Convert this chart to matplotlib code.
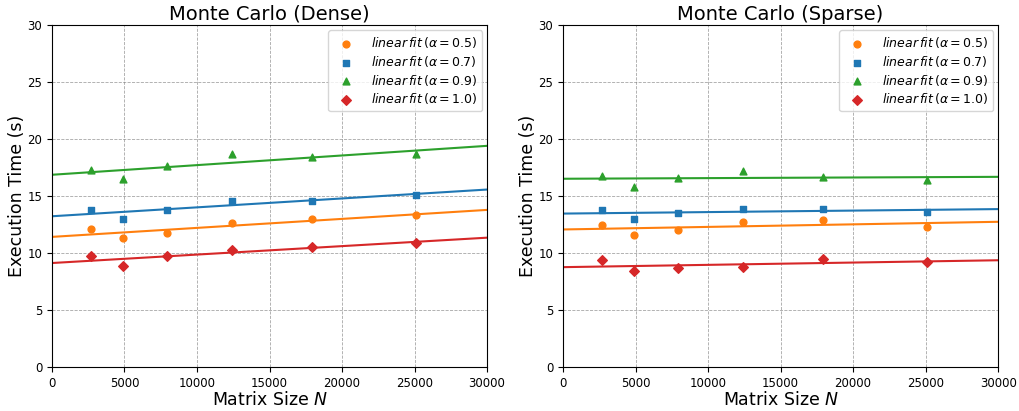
import numpy as np
import matplotlib

matplotlib.use("Agg")
import matplotlib.pyplot as plt

# matrix sizes (shared by both panels)
sizes = [2700, 4900, 7900, 12400, 17900, 25100]
alphas = [0.5, 0.7, 0.9, 1.0]

dense_times = {
    0.5: [12.1, 11.3, 11.8, 12.6, 13.0, 13.3],
    0.7: [13.8, 13.0, 13.8, 14.6, 14.6, 15.1],
    0.9: [17.3, 16.5, 17.6, 18.7, 18.4, 18.7],
    1.0: [9.7, 8.9, 9.7, 10.3, 10.5, 10.9],
}
sparse_times = {
    0.5: [12.5, 11.6, 12.0, 12.7, 12.9, 12.3],
    0.7: [13.8, 13.0, 13.5, 13.9, 13.9, 13.6],
    0.9: [16.8, 15.8, 16.6, 17.2, 16.7, 16.4],
    1.0: [9.4, 8.4, 8.7, 8.8, 9.5, 9.2],
}

COLORS = {0.5: "#ff7f0e", 0.7: "#1f77b4", 0.9: "#2ca02c", 1.0: "#d62728"}
MARKERS = {0.5: "o", 0.7: "s", 0.9: "^", 1.0: "D"}

fig = plt.figure(figsize=(10.19, 4.11), dpi=100)
ax_d = fig.add_axes([0.051, 0.107, 0.427, 0.832])
ax_s = fig.add_axes([0.5525, 0.107, 0.427, 0.832])

xfit = np.linspace(0, 30000, 200)
for ax, data, title in [(ax_d, dense_times, "Monte Carlo (Dense)"),
                        (ax_s, sparse_times, "Monte Carlo (Sparse)")]:
    for a in alphas:
        c = COLORS[a]
        ax.scatter(sizes, data[a], color=c, marker=MARKERS[a], s=24, zorder=3,
                   label=rf"$linear\,fit\,(\alpha = {a})$")
        k, b = np.polyfit(sizes, data[a], 1)
        ax.plot(xfit, k * xfit + b, color=c, lw=1.5, zorder=2)
    ax.set_xlim(0, 30000)
    ax.set_ylim(0, 30)
    ax.set_title(title, fontsize=14, pad=4)
    ax.set_xlabel("Matrix Size $N$", fontsize=12.5, labelpad=1)
    ax.set_ylabel("Execution Time (s)", fontsize=12.5, labelpad=1)
    ax.tick_params(labelsize=8.5)
    ax.grid(True, linestyle="--", color="gray", linewidth=0.6, alpha=0.7)
    ax.set_axisbelow(True)
    ax.legend(loc="upper right", fontsize=9, labelspacing=0.3,
              handletextpad=1.0, borderaxespad=0.4)

fig.savefig("out.png", dpi=100)
